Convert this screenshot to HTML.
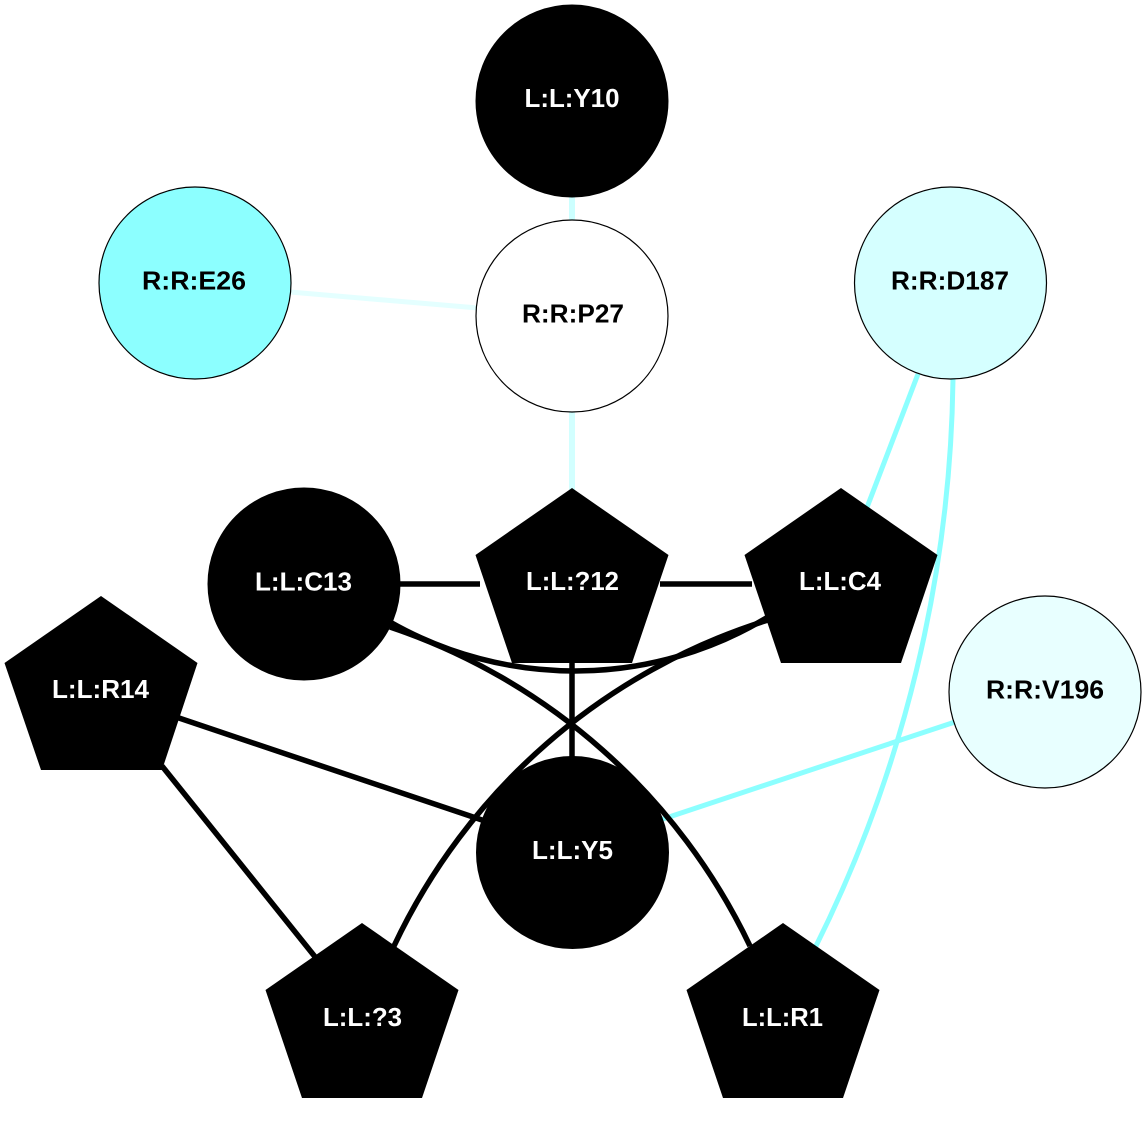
<!DOCTYPE html>
<html>
<head>
<meta charset="utf-8">
<style>
  html, body { margin: 0; padding: 0; background: #ffffff; }
  svg { display: block; }
  text { font-family: "Liberation Sans", Arial, sans-serif; font-weight: bold; font-size: 26px; text-anchor: middle; }
</style>
</head>
<body>
<svg width="1145" height="1121" viewBox="0 0 1145 1121" xmlns="http://www.w3.org/2000/svg">
  <rect x="0" y="0" width="1145" height="1121" fill="#ffffff"/>

  <!-- light cyan edges -->
  <line x1="572" y1="196" x2="572" y2="222" stroke="#ccffff" stroke-width="6"/>
  <line x1="290" y1="292" x2="478" y2="308" stroke="#e4ffff" stroke-width="5"/>
  <line x1="572" y1="410" x2="572" y2="492" stroke="#d2ffff" stroke-width="6"/>

  <!-- cyan edges -->
  <line x1="918" y1="374" x2="866" y2="510" stroke="#8cffff" stroke-width="5"/>
  <path d="M 953 378 A 1310 1310 0 0 1 815 948" fill="none" stroke="#8cffff" stroke-width="5"/>
  <line x1="955" y1="722" x2="660" y2="820" stroke="#8cffff" stroke-width="5"/>

  <!-- black edges -->
  <line x1="398" y1="584" x2="480" y2="584" stroke="#000" stroke-width="5.5"/>
  <line x1="660" y1="584" x2="752" y2="584" stroke="#000" stroke-width="5.5"/>
  <line x1="572" y1="660" x2="572" y2="760" stroke="#000" stroke-width="5.5"/>
  <line x1="176" y1="717" x2="482" y2="820" stroke="#000" stroke-width="5.5"/>
  <line x1="162" y1="766" x2="316" y2="958" stroke="#000" stroke-width="5.5"/>
  <path d="M 390 622 A 373 373 0 0 0 768 617" fill="none" stroke="#000" stroke-width="5.5"/>
  <path d="M 390 627 A 616 616 0 0 1 750 946" fill="none" stroke="#000" stroke-width="5.5"/>
  <path d="M 768 620 A 616 616 0 0 0 394 946" fill="none" stroke="#000" stroke-width="5.5"/>

  <!-- circle nodes -->
  <circle cx="572" cy="101" r="96" fill="#000" stroke="#000" stroke-width="1"/>
  <circle cx="195" cy="283" r="96" fill="#8cffff" stroke="#000" stroke-width="1.2"/>
  <circle cx="572" cy="316" r="96" fill="#ffffff" stroke="#000" stroke-width="1.2"/>
  <circle cx="950.5" cy="283" r="96" fill="#d5ffff" stroke="#000" stroke-width="1.2"/>
  <circle cx="304" cy="584" r="96" fill="#000" stroke="#000" stroke-width="1"/>
  <circle cx="1045" cy="692" r="96" fill="#e8ffff" stroke="#000" stroke-width="1.2"/>
  <circle cx="572.5" cy="852.5" r="96" fill="#000" stroke="#000" stroke-width="1"/>

  <!-- pentagon nodes -->
  <polygon points="572,488 668.5,555 632,663 512,663 475.5,555" fill="#000"/>
  <polygon points="841,488 937.5,555 901,663 781,663 744.5,555" fill="#000"/>
  <polygon points="101,596 197.5,663 162,770 41,770 4.5,663" fill="#000"/>
  <polygon points="362,923 458.5,990 422,1098 302,1098 265.5,990" fill="#000"/>
  <polygon points="783,923 879.5,990 843,1098 723,1098 686.5,990" fill="#000"/>

  <!-- labels -->
  <text x="572" y="107" fill="#ffffff" textLength="95" lengthAdjust="spacingAndGlyphs">L:L:Y10</text>
  <text x="194" y="289.5" fill="#000000" textLength="104" lengthAdjust="spacingAndGlyphs">R:R:E26</text>
  <text x="573" y="322.5" fill="#000000" textLength="102" lengthAdjust="spacingAndGlyphs">R:R:P27</text>
  <text x="950" y="289.5" fill="#000000" textLength="118" lengthAdjust="spacingAndGlyphs">R:R:D187</text>
  <text x="303.5" y="590.5" fill="#ffffff" textLength="97" lengthAdjust="spacingAndGlyphs">L:L:C13</text>
  <text x="572.5" y="590" fill="#ffffff" textLength="93" lengthAdjust="spacingAndGlyphs">L:L:?12</text>
  <text x="840" y="590" fill="#ffffff" textLength="82" lengthAdjust="spacingAndGlyphs">L:L:C4</text>
  <text x="100.5" y="698" fill="#ffffff" textLength="97" lengthAdjust="spacingAndGlyphs">L:L:R14</text>
  <text x="1045" y="698.5" fill="#000000" textLength="118" lengthAdjust="spacingAndGlyphs">R:R:V196</text>
  <text x="572.5" y="859" fill="#ffffff" textLength="81" lengthAdjust="spacingAndGlyphs">L:L:Y5</text>
  <text x="362.5" y="1026" fill="#ffffff" textLength="79" lengthAdjust="spacingAndGlyphs">L:L:?3</text>
  <text x="782.5" y="1026" fill="#ffffff" textLength="81" lengthAdjust="spacingAndGlyphs">L:L:R1</text>
</svg>
</body>
</html>
